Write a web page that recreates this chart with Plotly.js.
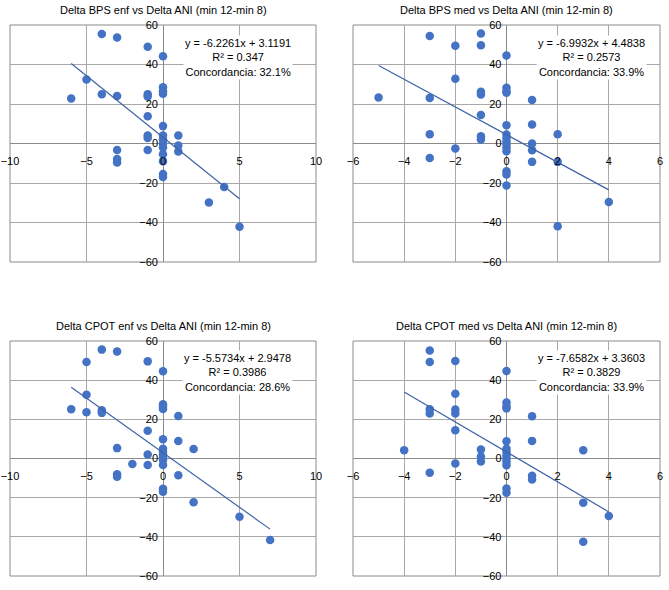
<!DOCTYPE html>
<html>
<head>
<meta charset="utf-8">
<script src="https://cdn.plot.ly/plotly-3.0.1.min.js"></script>
<style>html,body{margin:0;padding:0;background:#fff;}#chart{width:669px;height:590px;}</style>
</head>
<body>
<div id="chart"></div>
<script>
// ---- Data ----
const titles = [
  "Delta BPS enf vs Delta ANI (min 12-min 8)",
  "Delta BPS med vs Delta ANI (min 12-min 8)",
  "Delta CPOT enf vs Delta ANI (min 12-min 8)",
  "Delta CPOT med vs Delta ANI (min 12-min 8)"
];

const bpsEnfX = [-4,-3,-1,0,-5,-6,-4,-3,-1,-1,0,0,0,-1,0,-1,-1,0,0,0,0,1,1,1,-1,-3,-3,-3,0,0,0,0,4,3,5];
const bpsEnfY = [55.5,53.7,49.0,44.2,32.4,22.8,25.0,24.1,25.0,23.8,28.5,26.5,25.2,13.8,8.8,4.0,2.8,4.0,2.0,0,-2.0,4.0,-1.0,-4.0,-3.3,-3.3,-7.8,-9.6,-5.5,-9.0,-15.5,-17.0,-22.0,-29.9,-42.2];

const bpsMedX = [-3,-1,-1,-2,0,-2,-5,-3,-1,-1,0,0,0,1,-1,0,1,-3,2,-1,-1,0,0,0,0,0,0,1,1,-2,-3,1,2,0,0,0,4,2];
const bpsMedY = [54.4,55.7,49.8,49.5,44.6,32.8,23.3,23.1,26.2,24.8,28.2,26.5,25.7,22.0,14.4,9.3,9.6,4.7,4.7,3.7,2.0,4.6,2.9,1.2,-0.5,-2.2,-3.9,0,-3.4,-2.5,-7.3,-9.3,-9.3,-14.0,-15.7,-21.3,-29.6,-41.9];

const cpotEnfX = [-4,-3,-5,-1,0,-5,-6,-5,-4,-4,0,0,0,1,-1,0,1,-3,2,0,0,0,0,0,0,-1,-2,-1,-3,-3,1,0,0,2,5,7];
const cpotEnfY = [55.6,54.7,49.3,49.6,44.5,32.6,25.2,23.6,24.6,23.3,27.7,26.5,25.3,21.7,14.2,9.8,8.9,5.3,4.8,5.0,3.4,2.0,0.6,-0.8,-3.3,2.1,-2.8,-3.3,-8.0,-9.3,-8.6,-15.5,-17.0,-22.3,-29.7,-41.6];

const cpotMedX = [-3,-3,-2,0,-2,-3,-3,-2,-2,0,0,0,1,-2,0,1,-4,3,-1,-1,-1,0,0,0,0,0,0,-2,-3,1,1,0,0,3,4,3];
const cpotMedY = [55.2,49.3,49.8,44.7,33.1,25.2,23.0,25.0,23.0,28.6,26.7,25.6,21.6,14.4,8.8,9.0,4.2,4.2,4.6,1.0,-1.5,5.0,3.4,1.7,0,-1.7,-3.4,-2.5,-7.3,-8.8,-10.7,-15.3,-17.5,-22.6,-29.4,-42.5];

const slopes = [-6.2261, -6.9932, -5.5734, -7.6582];
const intercepts = [3.1191, 4.4838, 2.9478, 3.3603];
const r2Labels = ["0.347", "0.2573", "0.3986", "0.3829"];
const concordancia = ["32.1%", "33.9%", "28.6%", "33.9%"];
const xRanges = [[-10,10],[-6,6],[-10,10],[-6,6]];
const xDticks = [5, 2, 5, 2];

// ---- Layout geometry ----
const W = 669, H = 590;
const xDomPx = [[10,316],[353,660],[10,316],[353,660]];
const yDomPx = [[25,262],[25,262],[341,576],[341,576]];

const seriesX = [bpsEnfX, bpsMedX, cpotEnfX, cpotMedX];
const seriesY = [bpsEnfY, bpsMedY, cpotEnfY, cpotMedY];

const blue = "#4472C4";
const gridCol = "#a8a8a8";
const frameCol = "#8a8a8a";
const font = {family: "Liberation Sans, Arial, Helvetica, sans-serif", size: 11, color: "#000"};

const traces = [];
const layout = {
  width: W, height: H,
  margin: {l:0, r:0, t:0, b:0},
  paper_bgcolor: "#fff", plot_bgcolor: "#fff",
  showlegend: false,
  font: font,
  annotations: [], shapes: []
};

for (let i = 0; i < 4; i++) {
  const n = i + 1;
  const xa = n === 1 ? "x" : "x" + n;
  const ya = n === 1 ? "y" : "y" + n;
  const xd = [xDomPx[i][0]/W, xDomPx[i][1]/W];
  const yd = [1 - yDomPx[i][1]/H, 1 - yDomPx[i][0]/H];

  traces.push({
    type: "scatter", mode: "markers",
    x: seriesX[i], y: seriesY[i],
    xaxis: xa, yaxis: ya,
    marker: {color: blue, size: 8.5},
    hoverinfo: "x+y"
  });
  const xmin = Math.min(...seriesX[i]), xmax = Math.max(...seriesX[i]);
  traces.push({
    type: "scatter", mode: "lines",
    x: [xmin, xmax],
    y: [slopes[i]*xmin + intercepts[i], slopes[i]*xmax + intercepts[i]],
    xaxis: xa, yaxis: ya,
    line: {color: "#3e64a8", width: 1.2},
    hoverinfo: "skip"
  });

  const xKey = n === 1 ? "xaxis" : "xaxis" + n;
  const yKey = n === 1 ? "yaxis" : "yaxis" + n;
  layout[xKey] = {
    domain: xd, range: xRanges[i], dtick: xDticks[i], tick0: 0,
    anchor: "free", position: (yd[0]+yd[1])/2,
    showgrid: true, gridcolor: gridCol, gridwidth: 1,
    zeroline: true, zerolinecolor: frameCol, zerolinewidth: 1,
    showline: false, ticks: "", ticklabelstandoff: 9,
    tickfont: font, fixedrange: true
  };
  layout[yKey] = {
    domain: yd, range: [-60, 60], dtick: 20, tick0: 0,
    anchor: "free", position: (xd[0]+xd[1])/2,
    showgrid: true, gridcolor: gridCol, gridwidth: 1,
    zeroline: true, zerolinecolor: frameCol, zerolinewidth: 1,
    showline: false, ticks: "", ticklabelstandoff: 5,
    tickfont: font, fixedrange: true
  };

  layout.shapes.push({
    type: "rect", xref: xa + " domain", yref: ya + " domain",
    x0: 0, x1: 1, y0: 0, y1: 1,
    line: {color: frameCol, width: 1}, layer: "below"
  });

  layout.annotations.push({
    xref: "paper", yref: "paper",
    x: (xd[0]+xd[1])/2, y: 1 - (yDomPx[i][0] - 15)/H,
    text: titles[i], showarrow: false, font: font,
    xanchor: "center", yanchor: "middle"
  });

  layout.annotations.push({
    xref: xa + " domain", yref: ya + " domain",
    x: i % 2 === 0 ? 0.745 : 0.777, y: 0.864,
    text: "y = " + slopes[i].toFixed(4) + "x + " + intercepts[i].toFixed(4) +
          "<br>R² = " + r2Labels[i] + "<br>Concordancia: " + concordancia[i],
    showarrow: false, font: font, align: "center",
    xanchor: "center", yanchor: "middle",
    bgcolor: "#fff", borderpad: 1
  });
}

Plotly.newPlot("chart", traces, layout, {displayModeBar: false, staticPlot: true});
</script>
</body>
</html>
